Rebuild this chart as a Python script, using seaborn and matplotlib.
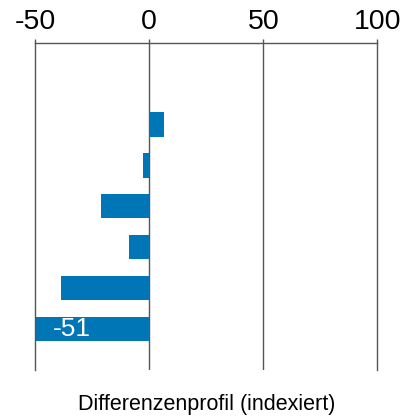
import matplotlib
matplotlib.use("Agg")
import matplotlib.pyplot as plt
import seaborn as sns
import pandas as pd

categories = ["K1", "K2", "K3", "K4", "K5", "K6", "K7"]
values = [-0.3, 6.6, -2.8, -21.2, -8.9, -38.6, -51]
labels = ["", "", "", "", "", "", "-51"]
xticks = [-50, 0, 50, 100]
xlabel = "Differenzenprofil (indexiert)"

sns.set_theme(style="white")
plt.rcParams["font.family"] = ["Liberation Sans", "DejaVu Sans"]

df = pd.DataFrame({"cat": categories, "val": values})

fig = plt.figure(figsize=(4.11, 4.19), dpi=100)
ax = fig.add_axes([35.3 / 411, 1 - 370 / 419, (377.3 - 35.3) / 411, (370 - 42.7) / 419])

sns.barplot(data=df, x="val", y="cat", orient="h", color="#0076B6",
            saturation=1, width=0.59, ax=ax, edgecolor="none")

ax.set_xlim(-50, 100)
ax.set_ylim(len(categories), -1)
ax.set_xticks(xticks)
ax.set_xticklabels([str(t) for t in xticks])
ax.xaxis.tick_top()
ax.tick_params(axis="x", which="both", top=True, bottom=False, length=3, width=1,
               color="#555555", labelsize=20.5, pad=2.5, labelcolor="black")
ax.set_yticks([])
ax.set_ylabel("")
ax.set_xlabel(xlabel, fontsize=15.5, labelpad=0, color="black")
ax.xaxis.set_label_position("bottom")
ax.xaxis.set_label_coords(0.5, -0.072)

for s in ["bottom"]:
    ax.spines[s].set_visible(False)
for s in ["top", "left", "right"]:
    ax.spines[s].set_color("#555555")
    ax.spines[s].set_linewidth(1)
for t in [0, 50]:
    ax.axvline(t, color="#555555", lw=1, zorder=0.5)

for i, lab in enumerate(labels):
    if lab:
        ax.text(-42.3, i, lab, ha="left", va="center", color="white", fontsize=19)

fig.savefig("out.png", dpi=100)
